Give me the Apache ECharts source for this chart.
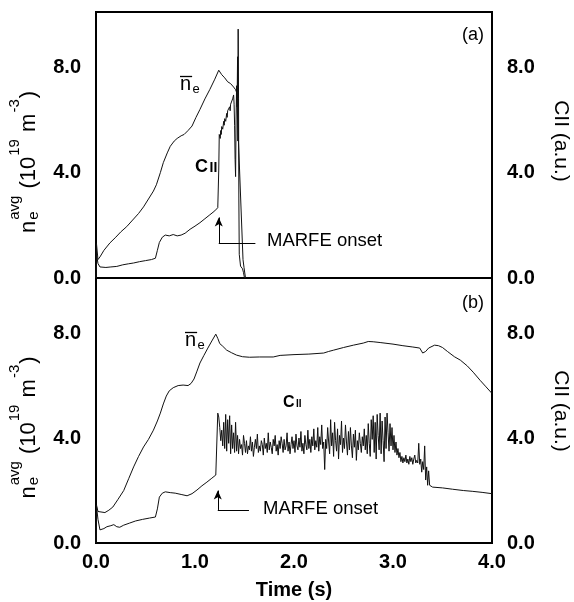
<!DOCTYPE html>
<html>
<head>
<meta charset="utf-8">
<script src="https://cdn.jsdelivr.net/npm/echarts@6/dist/echarts.min.js"></script>
<style>
  html, body { margin: 0; padding: 0; background: #fff; }
  #chart { width: 574px; height: 602px; }
</style>
</head>
<body>
<div id="chart"></div>
<script>
// ---- data: time (s) vs. line-averaged density (1e19 m^-3) and C II emission (a.u.) ----

// Panel (a): discharge terminated after the MARFE
const neA = [
  [0,0],[0.005,1.3],[0.02,0.7],[0.04,0.8],[0.08,1.05],[0.14,1.33],[0.2,1.55],[0.25,1.75],
  [0.31,1.95],[0.37,2.2],[0.43,2.45],[0.48,2.7],[0.53,3.0],[0.58,3.3],[0.61,3.54],[0.65,4.0],
  [0.68,4.38],[0.72,4.75],[0.75,5.0],[0.79,5.2],[0.82,5.3],[0.86,5.4],[0.89,5.45],[0.93,5.6],
  [0.97,5.77],[1.01,6.1],[1.05,6.4],[1.1,6.8],[1.15,7.16],[1.2,7.55],[1.24,7.89],[1.27,7.72],
  [1.3,7.6],[1.33,7.45],[1.36,7.38],[1.39,7.25],[1.41,7.15],[1.42,7.05],[1.485,0.7],
  [1.495,0.4],[1.51,0]
];
const ciiA = [
  [0,0],[0.005,0.9],[0.02,0.55],[0.04,0.42],[0.1,0.4],[0.15,0.42],[0.21,0.44],[0.27,0.5],
  [0.33,0.54],[0.38,0.57],[0.44,0.62],[0.5,0.66],[0.56,0.7],[0.6,0.75],[0.62,1.05],[0.64,1.35],
  [0.67,1.55],[0.7,1.63],[0.74,1.6],[0.78,1.65],[0.82,1.6],[0.86,1.63],[0.9,1.7],[0.95,1.85],
  [1.0,1.97],[1.05,2.1],[1.1,2.25],[1.15,2.4],[1.2,2.55],[1.23,2.67],[1.24,4.1],[1.245,5.45],
  [1.255,5.3],[1.26,5.6],[1.265,5.45],[1.27,5.75],[1.28,5.65],[1.29,5.95],[1.295,5.8],
  [1.30,6.05],[1.31,5.95],[1.32,6.25],[1.325,6.1],[1.33,6.35],[1.34,6.3],[1.35,6.5],
  [1.355,6.35],[1.36,6.6],[1.37,6.55],[1.38,6.8],[1.39,6.95],[1.395,6.6],[1.40,5.8],
  [1.405,4.5],[1.41,3.85],[1.415,6.0],[1.42,7.3],[1.425,6.5],[1.43,8.4],[1.433,5.2],
  [1.436,9.45],[1.44,6.8],[1.443,3.0],[1.447,0.9],[1.46,0.45],[1.48,0.35],[1.49,0.2],[1.5,0]
];

// Panel (b): discharge sustained through the MARFE
const neB = [
  [0,0],[0.005,1.45],[0.02,1.2],[0.04,1.14],[0.09,1.16],[0.13,1.25],[0.17,1.37],[0.22,1.65],
  [0.28,2.0],[0.33,2.45],[0.38,2.9],[0.43,3.3],[0.48,3.66],[0.53,3.95],[0.58,4.3],[0.62,4.65],
  [0.65,4.95],[0.68,5.3],[0.71,5.6],[0.74,5.8],[0.78,5.92],[0.83,6.0],[0.88,6.02],[0.93,6.0],
  [0.96,6.08],[0.99,6.25],[1.02,6.55],[1.05,6.86],[1.09,7.15],[1.13,7.43],[1.17,7.7],
  [1.21,7.96],[1.23,7.8],[1.25,7.6],[1.28,7.5],[1.32,7.35],[1.37,7.25],[1.42,7.16],[1.48,7.1],
  [1.55,7.08],[1.65,7.09],[1.79,7.09],[1.86,7.15],[2.0,7.18],[2.15,7.2],[2.3,7.24],[2.35,7.3],
  [2.4,7.35],[2.5,7.45],[2.6,7.54],[2.7,7.62],[2.75,7.68],[2.8,7.67],[2.87,7.64],[3.0,7.58],
  [3.1,7.52],[3.2,7.47],[3.27,7.43],[3.3,7.24],[3.33,7.3],[3.36,7.43],[3.42,7.54],[3.46,7.52],
  [3.5,7.45],[3.55,7.3],[3.62,7.1],[3.68,6.97],[3.75,6.75],[3.81,6.51],[3.88,6.2],[3.94,5.95],
  [4.0,5.7]
];
const ciiB = [
  [0,0],[0.005,1.4],[0.02,0.9],[0.04,0.5],[0.08,0.55],[0.11,0.62],[0.15,0.66],[0.18,0.7],
  [0.21,0.62],[0.24,0.6],[0.28,0.68],[0.34,0.76],[0.40,0.84],[0.47,0.9],[0.54,0.95],[0.60,0.99],
  [0.62,1.3],[0.64,1.75],[0.67,1.9],[0.70,1.95],[0.75,1.92],[0.80,1.9],[0.86,1.85],[0.92,1.8],
  [0.97,1.88],[1.02,2.02],[1.07,2.18],[1.12,2.32],[1.17,2.47],[1.21,2.59],[1.225,2.62],
  [1.23,4.95],[1.24,4.80],[1.25,4.40],[1.26,3.90],[1.27,4.30],[1.28,3.70],[1.29,4.60],[1.30,3.60],
  [1.31,4.90],[1.32,3.50],[1.33,4.70],[1.34,3.80],[1.35,4.85],[1.36,3.40],[1.37,4.50],[1.38,3.60],
  [1.39,4.20],[1.40,3.45],[1.41,4.60],[1.42,3.50],[1.43,4.10],[1.44,3.40],[1.45,3.95],[1.46,3.60],
  [1.47,3.75],[1.48,3.35],[1.49,4.10],[1.50,3.80],[1.51,3.45],[1.52,3.90],[1.53,3.40],[1.54,3.70],
  [1.55,3.55],[1.56,4.05],[1.57,3.50],[1.58,3.85],[1.59,3.30],[1.60,3.65],[1.61,3.95],[1.62,3.60],
  [1.63,4.15],[1.64,3.45],[1.65,3.70],[1.66,3.50],[1.67,3.90],[1.68,3.75],[1.69,3.35],[1.70,4.00],
  [1.71,3.60],[1.72,3.80],[1.73,3.45],[1.74,4.20],[1.75,3.55],[1.76,3.85],[1.77,3.65],[1.78,3.40],
  [1.79,3.95],[1.80,3.70],[1.81,4.10],[1.82,3.50],[1.83,3.75],[1.84,3.35],[1.85,3.90],[1.86,3.60],
  [1.87,4.05],[1.88,3.80],[1.89,3.45],[1.90,3.95],[1.91,3.55],[1.92,3.70],[1.93,4.20],[1.94,3.50],
  [1.95,3.85],[1.96,3.40],[1.97,3.75],[1.98,4.05],[1.99,3.60],[2.00,3.90],[2.01,3.45],[2.02,4.15],
  [2.03,3.70],[2.04,3.55],[2.05,4.00],[2.06,3.65],[2.07,4.25],[2.08,3.50],[2.09,3.80],[2.10,3.40],
  [2.11,4.10],[2.12,3.75],[2.13,3.55],[2.14,4.30],[2.15,3.60],[2.16,3.95],[2.17,3.45],[2.18,4.05],
  [2.19,3.70],[2.20,4.35],[2.21,3.55],[2.22,3.90],[2.23,3.65],[2.24,4.40],[2.25,3.50],[2.26,4.05],
  [2.27,3.75],[2.28,4.50],[2.29,3.60],[2.30,3.85],[2.31,2.80],[2.32,3.95],[2.33,3.60],[2.34,4.40],
  [2.35,3.85],[2.36,3.40],[2.37,4.70],[2.38,3.70],[2.39,4.20],[2.40,3.30],[2.41,4.60],[2.42,3.90],
  [2.43,3.50],[2.44,4.35],[2.45,3.20],[2.46,4.10],[2.47,3.75],[2.48,4.65],[2.49,3.45],[2.50,4.00],
  [2.51,3.60],[2.52,4.50],[2.53,3.85],[2.54,3.35],[2.55,4.25],[2.56,3.55],[2.57,4.40],[2.58,3.70],
  [2.59,3.25],[2.60,4.15],[2.61,3.65],[2.62,4.30],[2.63,3.15],[2.64,3.90],[2.65,3.55],[2.66,4.20],
  [2.67,3.80],[2.68,3.45],[2.69,4.05],[2.70,3.70],[2.71,4.35],[2.72,3.55],[2.73,4.10],[2.74,3.40],
  [2.75,4.55],[2.76,3.80],[2.77,3.30],[2.78,4.70],[2.79,3.95],[2.80,4.85],[2.81,3.45],[2.82,4.60],
  [2.83,3.20],[2.84,4.90],[2.85,4.10],[2.86,3.55],[2.87,4.95],[2.88,3.40],[2.89,4.65],[2.90,3.90],
  [2.91,3.10],[2.92,4.80],[2.93,3.60],[2.94,4.95],[2.95,4.20],[2.96,3.50],[2.97,4.55],[2.98,3.70],
  [2.99,4.40],[3.00,3.55],[3.01,4.10],[3.02,3.45],[3.03,3.85],[3.04,3.35],[3.05,3.60],[3.06,3.25],
  [3.07,3.45],[3.08,3.10],[3.09,3.30],[3.10,3.05],[3.11,3.25],[3.12,3.10],[3.13,3.35],[3.14,3.05],
  [3.15,3.20],[3.16,3.00],[3.17,3.30],[3.18,3.10],[3.19,3.25],[3.20,3.00],[3.21,3.20],[3.22,3.35],
  [3.23,3.05],[3.24,3.15],[3.25,3.05],[3.26,3.80],[3.27,3.00],[3.28,3.20],[3.29,2.70],[3.30,3.10],
  [3.31,2.80],[3.32,3.70],[3.33,2.40],[3.34,2.90],[3.35,2.20],[3.36,2.75],[3.37,2.20],[3.38,2.15],
  [3.40,2.13],[3.50,2.10],[3.60,2.05],[3.71,2.00],[3.80,1.97],[3.90,1.93],[4.00,1.88]
];

const yTicks = [0, 4, 8];
const xTicks = [0, 1, 2, 3, 4];

// MARFE onset pointers, in axis units (time, value)
const onsetA = { t: 1.24, tip: 2.3, corner: 1.33, tailT: 1.61 };
const onsetB = { t: 1.23, tip: 2.0, corner: 1.26, tailT: 1.545 };

// ---- layout ----
const FONT = '"Liberation Sans", Arial, Helvetica, sans-serif';
const Y_MAX = 10.1;
const PLOT_L = 96, PLOT_W = 396;
const PANEL_A_TOP = 12, PANEL_H = 266;
const PANEL_B_TOP = 278;

const chart = echarts.init(document.getElementById('chart'), null, { renderer: 'canvas' });

const tickFmt = v => (yTicks.indexOf(v) >= 0 ? v.toFixed(1) : '');
const labelStyle = { color: '#000', fontFamily: FONT, fontSize: 20, fontWeight: 'bold' };

function yAxisFor(grid, pos) {
  return {
    type: 'value', gridIndex: grid, position: pos, min: 0, max: Y_MAX, interval: 4,
    axisLine: { show: false }, axisTick: { show: false }, splitLine: { show: false },
    axisLabel: Object.assign({ formatter: tickFmt, margin: 15 }, labelStyle)
  };
}

function trace(data, xi, yi) {
  return {
    type: 'line', data: data, xAxisIndex: xi, yAxisIndex: yi,
    symbol: 'none', showSymbol: false, silent: true, animation: false,
    lineStyle: { color: '#111', width: 1 }, emphasis: { disabled: true }
  };
}

function onsetMarker(o) {
  return {
    silent: true, animation: false, symbol: ['none', 'none'],
    label: { show: false }, emphasis: { disabled: true },
    lineStyle: { color: '#000', width: 1, type: 'solid' },
    data: [
      [{ coord: [o.tailT, o.corner] }, { coord: [o.t, o.corner] }],
      [{ coord: [o.t, o.corner] }, { coord: [o.t, o.tip], symbol: 'arrow', symbolSize: [6, 9] }]
    ]
  };
}

// text measuring for the stacked-script density label
const measure = document.createElement('canvas').getContext('2d');
function textW(str, size, weight) {
  measure.font = (weight || 'normal') + ' ' + size + 'px ' + FONT;
  return measure.measureText(str).width;
}
function txt(x, baseline, str, size, weight, align) {
  return {
    type: 'text', x: x, y: baseline - 0.3465 * size, silent: true,
    style: {
      text: str, font: (weight || 'normal') + ' ' + size + 'px ' + FONT,
      fill: '#000', align: align || 'left', verticalAlign: 'middle'
    }
  };
}

// n_e^avg (10^19 m^-3), written bottom-to-top
function densityTitle(baseX, centerY) {
  const M = 22, S = 15, SUP = -16, SUB = 3;
  const runs = [
    [{ t: 'n', s: M, dy: 0 }],
    [{ t: 'e', s: S, dy: SUB }, { t: 'avg', s: S, dy: SUP }],
    [{ t: ' (10', s: M, dy: 0 }],
    [{ t: '19', s: S, dy: SUP }],
    [{ t: ' m', s: M, dy: 0 }],
    [{ t: '-3', s: S, dy: SUP }],
    [{ t: ')', s: M, dy: 0 }]
  ];
  const widths = runs.map(r => Math.max.apply(null, r.map(p => textW(p.t, p.s))) + 1);
  const total = widths.reduce((a, b) => a + b, 0);
  let x = -total / 2;
  const children = [];
  runs.forEach((r, i) => {
    r.forEach(p => children.push(txt(x, p.dy, p.t, p.s)));
    x += widths[i];
  });
  return { type: 'group', x: baseX, y: centerY, rotation: Math.PI / 2, children: children };
}

function rightTitle(cy) {
  return {
    type: 'text', x: 561, y: cy, rotation: -Math.PI / 2, silent: true,
    style: { text: 'CII (a.u.)', font: 'normal 21px ' + FONT, fill: '#000', align: 'center', verticalAlign: 'middle' }
  };
}

// n-bar with subscript e
function neLabel(x, baseline) {
  const w = textW('n', 20);
  return [
    txt(x, baseline, 'n', 20),
    { type: 'line', silent: true, shape: { x1: x, y1: baseline - 14.5, x2: x + w + 1, y2: baseline - 14.5 },
      style: { stroke: '#000', lineWidth: 1.3 } },
    txt(x + w + 1.5, baseline + 3, 'e', 13)
  ];
}

// C II with small-capital numeral
function ciiLabel(x, baseline, cSize, iSize) {
  const w = textW('C', cSize, 'bold');
  return [
    txt(x, baseline, 'C', cSize, 'bold'),
    txt(x + w + 1.5, baseline, 'II', iSize, 'bold')
  ];
}

const graphics = [].concat(
  [densityTitle(36.5, 161.5), densityTitle(36.5, 427)],
  [rightTitle(141), rightTitle(411)],
  neLabel(180, 91), neLabel(185, 347),
  ciiLabel(195, 173, 18, 14), ciiLabel(283, 408, 16, 10),
  [txt(267, 247.5, 'MARFE onset', 18.5), txt(263, 515.5, 'MARFE onset', 18.5)],
  [txt(473, 41, '(a)', 18, 'normal', 'center'), txt(473, 309, '(b)', 18, 'normal', 'center')]
);

const option = {
  animation: false,
  backgroundColor: '#fff',
  grid: [
    { left: PLOT_L, top: PANEL_A_TOP, width: PLOT_W, height: PANEL_H, show: true,
      borderColor: '#000', borderWidth: 2, backgroundColor: 'transparent',
      containLabel: false, outerBoundsMode: 'none' },
    { left: PLOT_L, top: PANEL_B_TOP, width: PLOT_W, height: PANEL_H - 1, show: true,
      borderColor: '#000', borderWidth: 2, backgroundColor: 'transparent',
      containLabel: false, outerBoundsMode: 'none' }
  ],
  xAxis: [
    { type: 'value', gridIndex: 0, min: xTicks[0], max: xTicks[xTicks.length - 1], interval: 1,
      axisLine: { show: false }, axisTick: { show: false }, splitLine: { show: false },
      axisLabel: { show: false } },
    { type: 'value', gridIndex: 1, min: xTicks[0], max: xTicks[xTicks.length - 1], interval: 1,
      axisLine: { show: false }, axisTick: { show: false }, splitLine: { show: false },
      axisLabel: Object.assign({ formatter: v => v.toFixed(1), margin: 9 }, labelStyle),
      name: 'Time (s)', nameLocation: 'middle', nameGap: 37,
      nameTextStyle: { color: '#000', fontFamily: FONT, fontSize: 20, fontWeight: 'bold' } }
  ],
  yAxis: [yAxisFor(0, 'left'), yAxisFor(0, 'right'), yAxisFor(1, 'left'), yAxisFor(1, 'right')],
  series: [
    trace(neA, 0, 0),
    Object.assign(trace(ciiA, 0, 1), { markLine: onsetMarker(onsetA) }),
    trace(neB, 1, 2),
    Object.assign(trace(ciiB, 1, 3), { markLine: onsetMarker(onsetB) })
  ],
  graphic: { elements: graphics }
};

chart.setOption(option);
</script>
</body>
</html>
